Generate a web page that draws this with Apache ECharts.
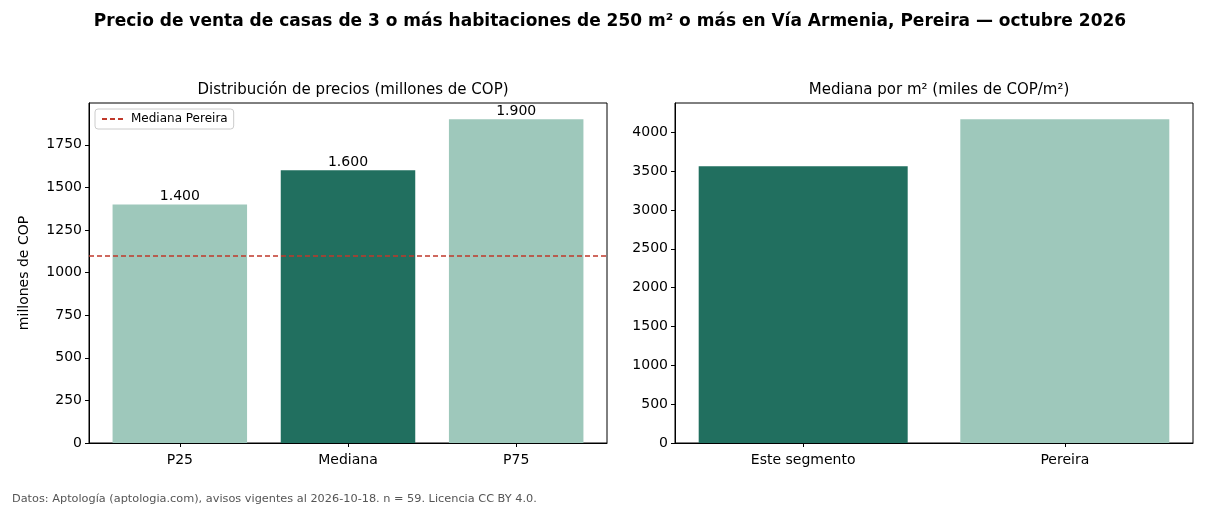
<!DOCTYPE html>
<html>
<head>
<meta charset="utf-8">
<script src="https://cdn.jsdelivr.net/npm/echarts@6/dist/echarts.min.js"></script>
<style>
  html, body { margin: 0; padding: 0; background: #fff; }
  #chart { width: 1210px; height: 506px; }
</style>
</head>
<body>
<div id="chart"></div>
<script>
// precios (millones de COP)
const priceCats = ['P25', 'Mediana', 'P75']
const priceVals = [1400, 1600, 1900]
const pereiraMedian = 1100
const priceTicks = [0, 250, 500, 750, 1000, 1250, 1500, 1750]

// mediana por m2 (miles de COP/m2)
const m2Cats = ['Este segmento', 'Pereira']
const m2Vals = [3565, 4170]
const m2Ticks = [0, 500, 1000, 1500, 2000, 2500, 3000, 3500, 4000]

const DARK = '#216f5f'
const LIGHT = '#9ec8bb'
const RED = '#c0392b'
const FONT = 'DejaVu Sans'

const fmtEs = v => v.toLocaleString('de-DE')

const chart = echarts.init(document.getElementById('chart'))

const yAxisBase = (ticks, max) => ({
  type: 'value',
  min: 0,
  max: max,
  axisLine: { show: true, onZero: false, lineStyle: { color: '#000', width: 1 } },
  axisTick: { show: true, length: 4, customValues: ticks, lineStyle: { color: '#000' } },
  axisLabel: {
    customValues: ticks, color: '#000', fontSize: 14, fontFamily: FONT, margin: 7,
    formatter: v => String(v)
  },
  splitLine: { show: false }
})

// categories placed at 0..n-1 on a value axis, with matplotlib-like margins
const xAxisBase = (cats) => {
  const idx = cats.map((c, i) => i)
  const pad = 0.4 + 0.05 * (cats.length - 1 + 0.8)
  return {
    type: 'value',
    min: -pad,
    max: cats.length - 1 + pad,
    axisLine: { show: true, onZero: false, lineStyle: { color: '#000', width: 1 } },
    axisTick: { show: true, length: 4, customValues: idx, lineStyle: { color: '#000' } },
    axisLabel: {
      customValues: idx, color: '#000', fontSize: 14, fontFamily: FONT, margin: 10,
      formatter: v => cats[Math.round(v)]
    },
    splitLine: { show: false }
  }
}

chart.setOption({
  animation: false,
  textStyle: { fontFamily: FONT },
  title: [
    {
      text: 'Precio de venta de casas de 3 o más habitaciones de 250 m² o más en Vía Armenia, Pereira — octubre 2026',
      left: 605, top: 8, textAlign: 'center',
      textStyle: { fontSize: 17, fontWeight: 'bold', color: '#000', fontFamily: FONT }
    },
    {
      text: 'Distribución de precios (millones de COP)',
      left: 348, top: 78, textAlign: 'center',
      textStyle: { fontSize: 15, fontWeight: 'normal', color: '#000', fontFamily: FONT }
    },
    {
      text: 'Mediana por m² (miles de COP/m²)',
      left: 934, top: 78, textAlign: 'center',
      textStyle: { fontSize: 15, fontWeight: 'normal', color: '#000', fontFamily: FONT }
    },
    {
      text: 'Datos: Aptología (aptologia.com), avisos vigentes al 2026-10-18. n = 59. Licencia CC BY 4.0.',
      left: 7, top: 489,
      textStyle: { fontSize: 11.3, fontWeight: 'normal', color: '#555', fontFamily: FONT }
    }
  ],
  legend: {
    data: ['Mediana Pereira'],
    left: 95, top: 109,
    orient: 'vertical',
    itemWidth: 24, itemHeight: 2,
    itemGap: 4,
    padding: [4, 6, 4, 6],
    borderColor: '#ccc', borderWidth: 1, borderRadius: 3,
    backgroundColor: 'rgba(255,255,255,0.8)',
    textStyle: { fontSize: 12, color: '#000', fontFamily: FONT }
  },
  grid: [
    { left: 89, top: 103, width: 518, height: 340, show: true, borderColor: '#000', borderWidth: 1, backgroundColor: 'transparent' },
    { left: 675, top: 103, width: 518, height: 340, show: true, borderColor: '#000', borderWidth: 1, backgroundColor: 'transparent' }
  ],
  xAxis: [
    Object.assign(xAxisBase(priceCats), { gridIndex: 0 }),
    Object.assign(xAxisBase(m2Cats), { gridIndex: 1 })
  ],
  yAxis: [
    Object.assign(yAxisBase(priceTicks, 1995), {
      gridIndex: 0,
      name: 'millones de COP',
      nameLocation: 'middle',
      nameGap: 58,
      nameTextStyle: { fontSize: 14, color: '#000', fontFamily: FONT }
    }),
    Object.assign(yAxisBase(m2Ticks, 4378), { gridIndex: 1 })
  ],
  series: [
    {
      type: 'bar',
      xAxisIndex: 0, yAxisIndex: 0,
      barWidth: 134.5,
      data: priceVals.map((v, i) => ({ value: [i, v], itemStyle: { color: i === 1 ? DARK : LIGHT } })),
      label: {
        show: true, position: 'top', distance: 1,
        color: '#000', fontSize: 14, fontFamily: FONT,
        formatter: p => fmtEs(p.value[1])
      }
    },
    {
      name: 'Mediana Pereira',
      type: 'line',
      xAxisIndex: 0, yAxisIndex: 0,
      data: [],
      symbol: 'none',
      itemStyle: { color: RED },
      lineStyle: { color: RED, type: [5, 3], width: 1.5 },
      markLine: {
        silent: true,
        symbol: 'none',
        label: { show: false },
        lineStyle: { color: RED, type: [5, 3], width: 1.5 },
        data: [{ yAxis: pereiraMedian }]
      }
    },
    {
      type: 'bar',
      xAxisIndex: 1, yAxisIndex: 1,
      barWidth: 209,
      data: m2Vals.map((v, i) => ({ value: [i, v], itemStyle: { color: i === 0 ? DARK : LIGHT } }))
    }
  ]
})
</script>
</body>
</html>
